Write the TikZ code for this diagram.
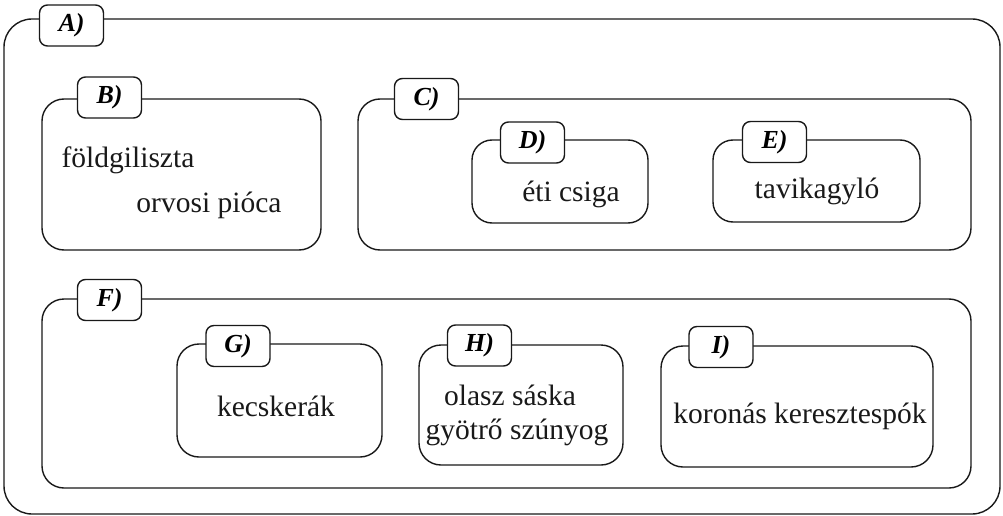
\documentclass[tikz,border=0pt]{standalone}
\usepackage{fontspec}
\setmainfont{Liberation Serif}
\begin{document}
\begin{tikzpicture}[x=1pt,y=-1pt,
  frame/.style={draw=black!90, line width=1.4pt, rounded corners=#1, inner sep=0pt, fill=none},
  frame/.default=22pt,
  tab/.style={draw=black!90, line width=1.4pt, rounded corners=8pt, fill=white, inner sep=0pt,
    minimum width=64pt, minimum height=41pt, font=\fontsize{26}{28}\selectfont\bfseries\itshape},
  txt/.style={anchor=base, inner sep=0pt, font=\rmfamily\fontsize{29.5}{32}\selectfont, text=black!90}
]
\useasboundingbox (0,0) rectangle (1003,516);
% outer A
\node[frame=28pt, minimum width=996pt, minimum height=495pt] (A) at (502,266.5) {};
\node[tab] (tA) at (71.5,25.5) {A)};
% B
\node[frame, minimum width=279pt, minimum height=151pt] (B) at (181.5,174.5) {};
\node[tab] (tB) at (109.5,97.5) {B)};
\node[txt] (b1) at (128,167) {földgiliszta};
\node[txt] (b2) at (209,212) {orvosi pióca};
% C
\node[frame, minimum width=613pt, minimum height=151pt] (C) at (664.5,174.5) {};
\node[tab] (tC) at (426.5,99) {C)};
% D
\node[frame=20pt, minimum width=176pt, minimum height=83pt] (D) at (560,181.5) {};
\node[tab] (tD) at (532.5,142.5) {D)};
\node[txt] (d1) at (571,201) {éti csiga};
% E
\node[frame=20pt, minimum width=207pt, minimum height=82pt] (E) at (816.5,181) {};
\node[tab] (tE) at (774.5,142) {E)};
\node[txt] (e1) at (817,198) {tavikagyló};
% F
\node[frame, minimum width=929pt, minimum height=189pt] (F) at (506.5,393.5) {};
\node[tab] (tF) at (109.5,300) {F)};
% G
\node[frame, minimum width=205pt, minimum height=113pt] (G) at (279.5,400.5) {};
\node[tab] (tG) at (238,346) {G)};
\node[txt] (g1) at (276,416) {kecskerák};
% H
\node[frame, minimum width=204pt, minimum height=120pt] (H) at (521,405) {};
\node[tab] (tH) at (479.5,345.5) {H)};
\node[txt] (h1) at (510,405) {olasz sáska};
\node[txt] (h2) at (517,439) {gyötrő szúnyog};
% I
\node[frame, minimum width=272pt, minimum height=121pt] (I) at (797,406.5) {};
\node[tab] (tI) at (721,347) {I)};
\node[txt] (i1) at (800,423) {koronás keresztespók};
\end{tikzpicture}
\end{document}
